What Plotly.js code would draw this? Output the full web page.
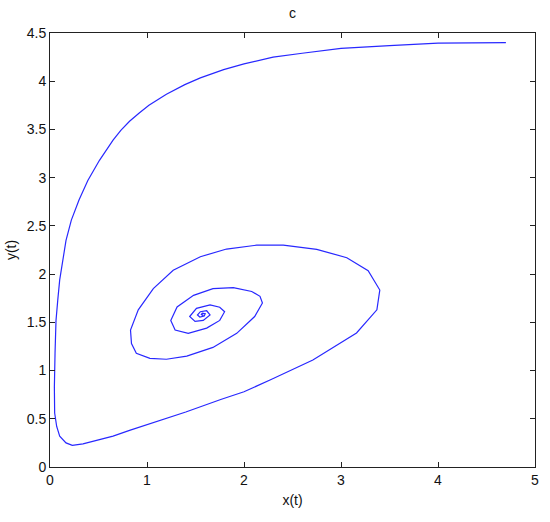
<!DOCTYPE html>
<html>
<head>
<meta charset="utf-8">
<script src="https://cdn.plot.ly/plotly-3.0.1.min.js"></script>
<style>html,body{margin:0;padding:0;background:#fff;}#chart{width:550px;height:522px;}</style>
</head>
<body>
<div id="chart"></div>
<script>
// Phase-plane trajectory (x(t), y(t))
const xValues = [4.70,4.30,4.00,3.50,3.00,2.60,2.30,2.00,1.79,1.55,1.39,1.20,1.10,1.02,0.92,0.82,0.73,0.65,0.51,0.39,0.30,0.22,0.165,0.13,0.10,0.08,0.062,0.052,0.045,0.048,0.069,0.10,0.165,0.23,0.34,0.48,0.65,0.82,1.03,1.40,1.76,2.00,2.285,2.71,3.16,3.37,3.40,3.28,3.06,2.75,2.405,2.13,1.82,1.55,1.27,1.065,0.91,0.83,0.84,0.89,1.03,1.20,1.41,1.68,1.925,2.11,2.19,2.165,2.08,1.89,1.68,1.48,1.31,1.245,1.29,1.425,1.615,1.75,1.80,1.75,1.65,1.51,1.44,1.495,1.58,1.65,1.615,1.55,1.52,1.545,1.59,1.60,1.57,1.56,1.575,1.58];
const yValues = [4.40,4.40,4.395,4.37,4.34,4.29,4.25,4.18,4.12,4.035,3.965,3.865,3.805,3.75,3.67,3.585,3.49,3.39,3.18,2.97,2.77,2.56,2.35,2.14,1.94,1.73,1.52,1.18,0.83,0.56,0.42,0.32,0.25,0.225,0.24,0.276,0.32,0.38,0.45,0.57,0.70,0.78,0.91,1.11,1.39,1.63,1.835,2.035,2.17,2.257,2.30,2.30,2.26,2.18,2.04,1.85,1.63,1.42,1.28,1.18,1.127,1.117,1.15,1.24,1.386,1.56,1.70,1.77,1.82,1.86,1.85,1.78,1.66,1.52,1.42,1.386,1.44,1.52,1.61,1.656,1.68,1.645,1.56,1.51,1.52,1.576,1.62,1.61,1.576,1.555,1.565,1.59,1.595,1.58,1.572,1.58];
const titleText = 'c';
const xLabel = 'x(t)';
const yLabel = 'y(t)';
const xTicks = [0,1,2,3,4,5];
const yTicks = [0,0.5,1,1.5,2,2.5,3,3.5,4,4.5];

const fontFamily = '"Liberation Sans", Arial, Helvetica, sans-serif';
const axisCommon = {
  showgrid: false, zeroline: false,
  showline: true, linecolor: '#222', linewidth: 1, mirror: 'ticks',
  ticks: 'inside', ticklen: 5, tickcolor: '#222', tickwidth: 1,
  tickfont: {family: fontFamily, size: 14, color: '#111'},
  fixedrange: true
};
Plotly.newPlot('chart', [{
  x: xValues, y: yValues, type: 'scatter', mode: 'lines',
  line: {color: '#2828ff', width: 1.2}, hoverinfo: 'skip'
}], {
  width: 550, height: 522,
  margin: {l: 50, r: 15, t: 33, b: 55},
  paper_bgcolor: '#fff', plot_bgcolor: '#fff',
  showlegend: false,
  title: {text: titleText, font: {family: fontFamily, size: 14, color: '#111'}, x: 0.532, xanchor: 'center', y: 0.985, yanchor: 'top'},
  xaxis: Object.assign({}, axisCommon, {range: [0, 5], tickvals: xTicks, ticktext: xTicks.map(String),
    title: {text: xLabel, font: {family: fontFamily, size: 14, color: '#111'}, standoff: 8}}),
  yaxis: Object.assign({}, axisCommon, {range: [0, 4.5], tickvals: yTicks, ticktext: yTicks.map(String),
    title: {text: yLabel, font: {family: fontFamily, size: 14, color: '#111'}, standoff: 6}})
}, {displayModeBar: false, staticPlot: true});
</script>
</body>
</html>
